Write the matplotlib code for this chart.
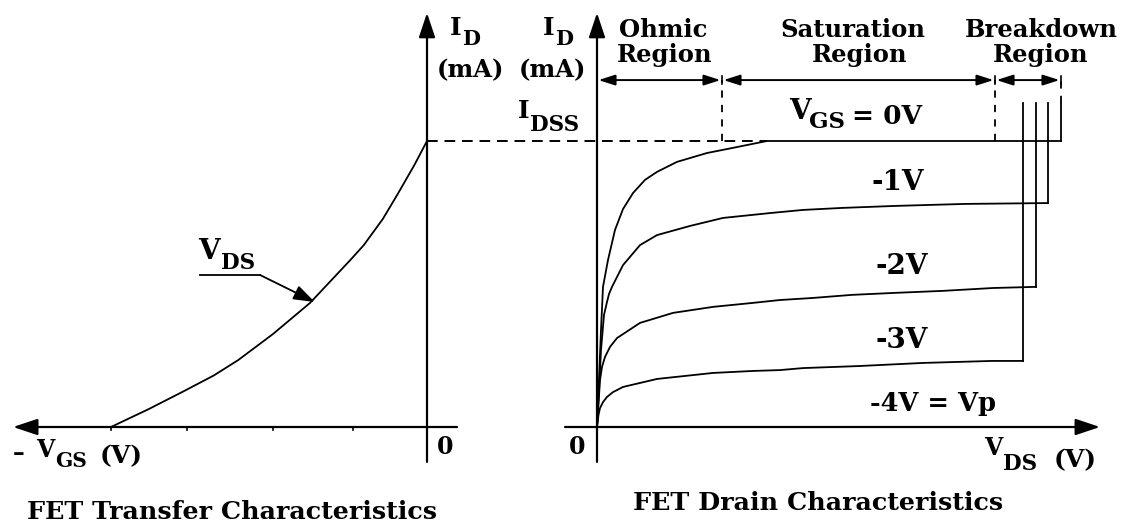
import matplotlib
matplotlib.use('Agg')
import matplotlib.pyplot as plt

plt.rcParams['font.family'] = ['DejaVu Serif']
plt.rcParams['font.weight'] = 'bold'

# ------------------------------------------------------------------ data
# Left panel: transfer characteristic  (VGS in V, ID in mA)
transfer_vgs = [-4.0, -3.52, -3.08, -2.70, -2.39, -1.95, -1.48, -0.97, -0.80, -0.56, -0.37, -0.16, 0.0]
transfer_id = [0.0, 0.63, 1.25, 1.80, 2.34, 3.25, 4.34, 5.84, 6.36, 7.27, 8.15, 9.16, 10.0]
gate_ticks = [-4.0, -3.04, -1.95, -0.94]
idss = 10.0

# Right panel: drain characteristics (VDS in V, ID in mA)
vds_0v = [0, 0.2, 0.4, 0.6, 1.1, 1.8, 2.6, 3.6, 4.8, 6.0, 8.0, 11.0, 13.6, 16.0, 17.0, 46.4]
id_0v = [0, 1.64, 3.39, 4.90, 5.84, 6.89, 7.62, 8.18, 8.64, 8.92, 9.27, 9.58, 9.76, 9.93, 10.0, 10.0]

vds_m1 = [0, 0.2, 0.4, 0.7, 1.0, 1.2, 1.5, 2.6, 4.3, 6.0, 9.3, 12.6, 17.3, 20.6, 24.5, 29.8, 36.8, 45.1]
id_m1 = [0, 1.29, 2.69, 3.92, 4.37, 4.65, 4.90, 5.66, 6.36, 6.71, 7.03, 7.31, 7.48, 7.59, 7.66, 7.73, 7.80, 7.83]

vds_m2 = [0, 0.3, 0.5, 0.8, 1.3, 2.0, 4.3, 7.6, 11.6, 15.6, 18.3, 21.5, 25.5, 29.8, 34.6, 39.6, 43.9]
id_m2 = [0, 1.64, 2.10, 2.45, 2.80, 3.11, 3.64, 3.99, 4.20, 4.34, 4.44, 4.51, 4.62, 4.69, 4.76, 4.86, 4.90]

vds_m3 = [0, 0.15, 0.3, 0.6, 1.0, 1.6, 2.6, 6.0, 11.6, 15.6, 18.3, 20.6, 26.1, 32.6, 39.5, 42.6]
id_m3 = [0, 0.42, 0.66, 0.87, 1.05, 1.22, 1.40, 1.68, 1.89, 1.96, 1.99, 2.06, 2.13, 2.24, 2.31, 2.31]

breakdown_top = 11.33
ohmic_end = 12.5
sat_end = 39.8
breakdown_end = 46.4
region_level = 12.13

curve_labels = ['-1V', '-2V', '-3V', '-4V = Vp']
region_titles = ['Ohmic', 'Saturation', 'Breakdown']
region_word = 'Region'

# ------------------------------------------------------------------ figure
W, H = 1123, 526
fig = plt.figure(figsize=(W / 100, H / 100), dpi=100)

# left panel: origin at pixel (427,427); 79 px per V, 28.6 px per mA
axL = fig.add_axes([0, 0, 1, 1])
axL.set_xlim(-427 / 79, (W - 427) / 79)
axL.set_ylim((427 - H) / 28.6, 427 / 28.6)
axL.axis('off')
# right panel: origin at pixel (597,427); 10 px per V
axR = fig.add_axes([0, 0, 1, 1])
axR.set_xlim(-597 / 10, (W - 597) / 10)
axR.set_ylim((427 - H) / 28.6, 427 / 28.6)
axR.axis('off')
axR.patch.set_alpha(0)
# text layer in pixel layout coordinates
axT = fig.add_axes([0, 0, 1, 1])
axT.set_xlim(0, W)
axT.set_ylim(H, 0)
axT.axis('off')
axT.patch.set_alpha(0)

K = 'black'
AX_LW = 1.6
CURVE_LW = 1.3


def arrow(ax, start, tip, hl=15, hw=5, lw=AX_LW, style='-|>'):
    ax.annotate('', xy=tip, xytext=start, annotation_clip=False,
                arrowprops=dict(arrowstyle=f'{style},head_length={hl},head_width={hw}',
                                mutation_scale=1, lw=lw, color=K,
                                shrinkA=0, shrinkB=0))


def txt(x, y, s, size, ha='left', va='baseline'):
    axT.text(x, y, s, fontsize=size, fontweight='bold', family='DejaVu Serif',
             ha=ha, va=va, color=K)


# ---------------- left panel
arrow(axL, (0, -1.22), (0, 14.48))                 # ID axis
arrow(axL, (0.38, 0), (-5.24, 0))                  # -VGS axis
for t in gate_ticks:
    axL.plot([t, t], [0, -0.12], color=K, lw=1.2)
axL.plot(transfer_vgs, transfer_id, color=K, lw=CURVE_LW, solid_joinstyle='round')
# VDS pointer
axL.plot([-2.87, -2.11], [5.31, 5.31], color=K, lw=1.3)
arrow(axL, (-2.11, 5.31), (-1.42, 4.37), hl=13, hw=4.5, lw=1.3)

# IDSS dashed projection
axL.plot([0, (767 - 427) / 79], [idss, idss], color=K, lw=1.4, dashes=(5.5, 3.5))

# ---------------- right panel
arrow(axR, (0, -1.22), (0, 14.48))                 # ID axis
arrow(axR, (-3.2, 0), (50.3, 0))                   # VDS axis

curves = [(vds_0v, id_0v), (vds_m1, id_m1), (vds_m2, id_m2), (vds_m3, id_m3)]
for xs, ys in curves:
    axR.plot(xs, ys, color=K, lw=CURVE_LW, solid_joinstyle='round')
    axR.plot([xs[-1], xs[-1]], [ys[-1], breakdown_top], color=K, lw=CURVE_LW)

# region boundaries
for xb in (ohmic_end, sat_end):
    axR.plot([xb, xb], [idss, region_level], color=K, lw=1.3, dashes=(4, 4))
axR.plot([breakdown_end, breakdown_end], [breakdown_top, region_level],
         color=K, lw=1.3, dashes=(4, 4))
bounds = [0.0, ohmic_end, sat_end, breakdown_end]
for a, b in zip(bounds[:-1], bounds[1:]):
    arrow(axR, (a + 0.15, region_level), (b - 0.15, region_level),
          hl=10, hw=3.2, lw=1.4, style='<|-|>')
for xb in bounds[1:]:
    axR.plot([xb, xb], [region_level - 0.14, region_level + 0.14], color=K, lw=1.2)

# ---------------- text (pixel layout positions)
for x0, xm in ((450, 470), (543, 552)):
    txt(x0, 35, 'I', 18)
    txt(x0 + 12, 45, 'D', 15)
    txt(xm, 77, '(mA)', 17.5, ha='center')
txt(518, 118, 'I', 18)
txt(530, 131, 'DSS', 15.5)
txt(445, 447, '0', 17, ha='center', va='center')
txt(577, 447, '0', 17, ha='center', va='center')

txt(13, 460, '–', 17)
txt(36, 457, 'V', 17)
txt(55, 467, 'GS', 14.5)
txt(100, 463, '(V)', 18)

txt(984, 455, 'V', 17)
txt(1003, 470, 'DS', 15.5)
txt(1054, 467, '(V)', 18)

txt(198, 259, 'V', 20)
txt(221, 269, 'DS', 15.5)

for name, cx, cx2 in zip(region_titles, (663, 853, 1041), (665, 860, 1041)):
    txt(cx, 37, name, 17.5, ha='center')
    txt(cx2, 62, region_word, 17.5, ha='center')

txt(789, 119, 'V', 20)
txt(809, 128, 'GS', 16.5)
txt(852, 124, '= 0V', 19)
for s, (lx, ly), sz in zip(curve_labels, [(898, 183), (902, 267), (902, 340), (933, 403)],
                           (20, 20, 20, 18.5)):
    txt(lx, ly, s, sz, ha='center', va='center')

txt(232, 512, 'FET Transfer Characteristics', 18.3, ha='center', va='center')
txt(818, 503, 'FET Drain Characteristics', 18.3, ha='center', va='center')

fig.savefig('out.png', dpi=100, facecolor='white')
